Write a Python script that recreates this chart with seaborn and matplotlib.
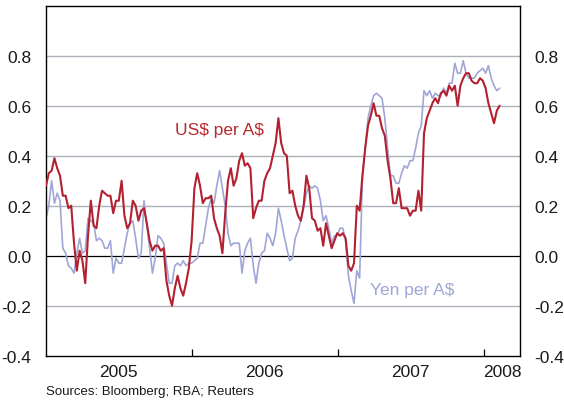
import seaborn as sns
import matplotlib.pyplot as plt
import matplotlib.dates as mdates
import pandas as pd
import numpy as np

# weekly readings, first week starting 1 Jan 2005
start_date = '2005-01-01'
usd = [0.28, 0.33, 0.34, 0.39, 0.35, 0.32, 0.24, 0.24, 0.19, 0.20,
       0.05, -0.06, 0.02, -0.02, -0.11, 0.08, 0.22, 0.12, 0.11, 0.20,
       0.26, 0.25, 0.24, 0.24, 0.17, 0.22, 0.22, 0.30, 0.16, 0.11,
       0.13, 0.22, 0.20, 0.14, 0.18, 0.19, 0.13, 0.06, 0.02, 0.04,
       0.04, 0.02, 0.03, -0.10, -0.16, -0.20, -0.13, -0.08, -0.13, -0.16,
       -0.11, -0.05, 0.06, 0.27, 0.33, 0.28, 0.21, 0.23, 0.23, 0.24,
       0.15, 0.11, 0.08, 0.01, 0.17, 0.30, 0.35, 0.28, 0.31, 0.38,
       0.41, 0.36, 0.37, 0.35, 0.15, 0.19, 0.22, 0.22, 0.30, 0.33,
       0.35, 0.40, 0.45, 0.55, 0.45, 0.41, 0.40, 0.25, 0.26, 0.20,
       0.16, 0.14, 0.20, 0.32, 0.27, 0.15, 0.14, 0.10, 0.11, 0.04,
       0.13, 0.08, 0.03, 0.06, 0.09, 0.08, 0.09, 0.07, -0.04, -0.06,
       -0.03, 0.20, 0.18, 0.32, 0.43, 0.52, 0.56, 0.61, 0.56, 0.56,
       0.51, 0.48, 0.38, 0.31, 0.21, 0.21, 0.27, 0.19, 0.19, 0.19,
       0.16, 0.18, 0.18, 0.26, 0.18, 0.49, 0.55, 0.58, 0.61, 0.63,
       0.61, 0.65, 0.66, 0.64, 0.68, 0.66, 0.68, 0.60, 0.68, 0.71,
       0.73, 0.73, 0.70, 0.69, 0.69, 0.71, 0.70, 0.67, 0.61, 0.57,
       0.53, 0.58, 0.60]
yen = [0.15, 0.20, 0.30, 0.21, 0.25, 0.22, 0.03, 0.01, -0.04, -0.05,
       -0.07, 0.01, 0.07, 0.01, 0.02, 0.15, 0.14, 0.13, 0.06, 0.07,
       0.06, 0.03, 0.03, 0.06, -0.07, -0.01, -0.03, -0.03, 0.03, 0.09,
       0.13, 0.14, 0.07, -0.01, 0.01, 0.22, 0.12, 0.03, -0.07, -0.01,
       0.08, 0.07, 0.05, -0.03, -0.11, -0.11, -0.04, -0.03, -0.04, -0.02,
       -0.04, -0.03, -0.03, -0.02, -0.01, 0.05, 0.05, 0.12, 0.19, 0.23,
       0.21, 0.28, 0.34, 0.27, 0.20, 0.09, 0.04, 0.05, 0.05, 0.05,
       -0.07, 0.02, 0.05, 0.07, -0.04, -0.11, -0.03, 0.01, 0.02, 0.09,
       0.07, 0.04, 0.09, 0.19, 0.14, 0.08, 0.03, -0.02, -0.01, 0.07,
       0.10, 0.14, 0.19, 0.25, 0.28, 0.27, 0.28, 0.27, 0.22, 0.14,
       0.16, 0.11, 0.05, 0.08, 0.08, 0.11, 0.11, 0.06, -0.08, -0.14,
       -0.19, -0.06, -0.09, 0.31, 0.43, 0.55, 0.60, 0.64, 0.65, 0.64,
       0.63, 0.55, 0.43, 0.32, 0.32, 0.29, 0.29, 0.33, 0.36, 0.35,
       0.38, 0.38, 0.43, 0.49, 0.52, 0.66, 0.64, 0.66, 0.63, 0.65,
       0.64, 0.64, 0.67, 0.65, 0.69, 0.69, 0.77, 0.73, 0.73, 0.78,
       0.73, 0.71, 0.71, 0.71, 0.73, 0.74, 0.75, 0.73, 0.76, 0.71,
       0.68, 0.66, 0.67]

year_ticks = ['2006-01-01', '2007-01-01', '2008-01-01']
year_labels = ['2005', '2006', '2007', '2008']
year_label_dates = ['2005-07-02', '2006-07-02', '2007-07-02', '2008-02-15']
y_ticks = [-0.4, -0.2, 0.0, 0.2, 0.4, 0.6, 0.8]

red = '#b3202f'
lavender = '#a0a6d6'

df = pd.DataFrame({'date': pd.date_range(start_date, periods=len(usd), freq='7D'),
                   'usd': usd, 'yen': yen})

sns.set_style('white')
plt.rcParams['font.family'] = ['Liberation Sans', 'DejaVu Sans']

fig = plt.figure(figsize=(5.64, 4.02), dpi=100)
ax = fig.add_axes([0.0816, 0.1127, 0.8404, 0.8706])

for v in y_ticks[1:]:
    if v != 0.0:
        ax.axhline(v, color='#adb1ba', lw=1.0, zorder=0)
ax.axhline(0.0, color='black', lw=0.9, zorder=1)

sns.lineplot(data=df, x='date', y='yen', color=lavender, lw=1.2, ax=ax, zorder=2)
sns.lineplot(data=df, x='date', y='usd', color=red, lw=1.5, ax=ax, zorder=3)

ax.set_ylim(-0.4, 1.0)
ax.set_xlim(mdates.date2num(pd.Timestamp('2005-01-01')),
            mdates.date2num(pd.Timestamp('2008-03-31')))
ax.set_yticks(y_ticks)
ax.set_yticklabels([f'{v:.1f}' for v in y_ticks])
ax.tick_params(axis='y', left=False, right=False, labelleft=True, labelright=True,
               labelsize=12.5, pad=7, labelcolor='#1a1a1a')

ax.set_xticks([mdates.date2num(pd.Timestamp(d)) for d in year_ticks])
ax.set_xticklabels([])
ax.set_xticks([mdates.date2num(pd.Timestamp(d)) for d in year_label_dates], minor=True)
ax.set_xticklabels(year_labels, minor=True)
ax.tick_params(axis='x', which='major', direction='in', length=5, width=0.9,
               color='black', bottom=True, top=False)
ax.tick_params(axis='x', which='minor', length=0, labelsize=12.5, pad=6,
               labelcolor='#1a1a1a')
ax.set_xlabel('')
ax.set_ylabel('')

for s in ax.spines.values():
    s.set_color('black')
    s.set_linewidth(1.0)

ax.text(0.272, 0.645, r'US\$ per A\$', color='#b8282f', fontsize=12.5,
        transform=ax.transAxes, ha='left', va='center')
ax.text(0.684, 0.19, r'Yen per A\$', color=lavender, fontsize=12.5,
        transform=ax.transAxes, ha='left', va='center')

fig.text(46 / 564, 1 - 392 / 402, 'Sources: Bloomberg; RBA; Reuters',
         fontsize=9.5, ha='left', va='center', color='#1a1a1a')

fig.savefig('out.png', dpi=100)
